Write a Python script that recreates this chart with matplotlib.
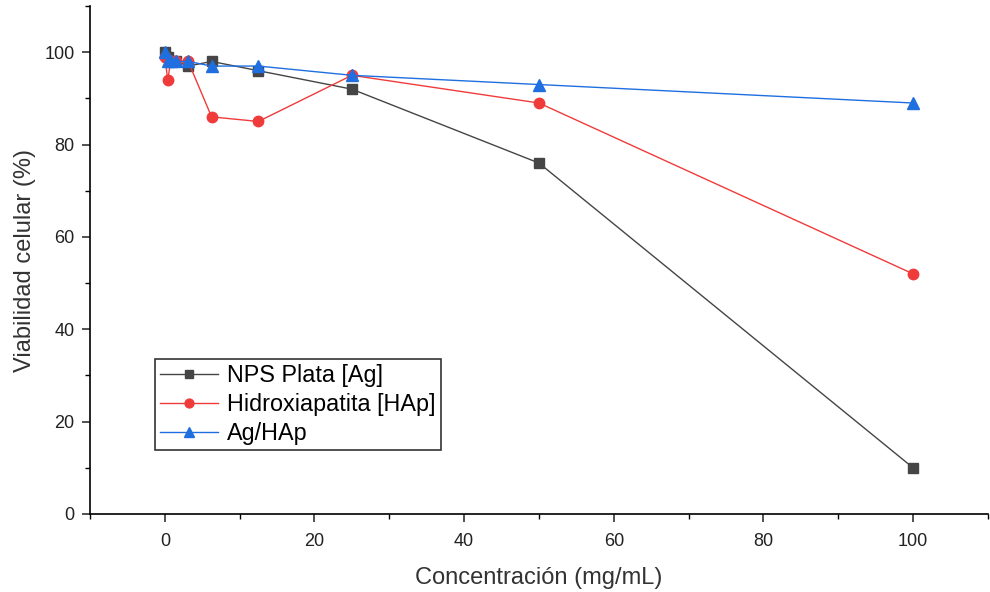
import matplotlib
matplotlib.use("Agg")
import matplotlib.pyplot as plt
from matplotlib.ticker import MultipleLocator

plt.rcParams['font.family'] = ['Liberation Sans', 'DejaVu Sans']

conc = [0, 0.39, 0.78, 1.56, 3.125, 6.25, 12.5, 25, 50, 100]
ag = [100, 99, 98, 98, 97, 98, 96, 92, 76, 10]
hap = [99, 94, 98, 98, 98, 86, 85, 95, 89, 52]
aghap = [100, 98, 98, 98, 98, 97, 97, 95, 93, 89]

fig = plt.figure(figsize=(9.9, 5.92), dpi=100)
ax = fig.add_axes([0.0909, 0.1318, 0.907, 0.858])

ax.plot(conc, ag, color='#454545', marker='s', markersize=7, lw=1.0, label='NPS Plata [Ag]')
ax.plot(conc, hap, color='#f03b3b', marker='o', markersize=7.5, lw=1.0, label='Hidroxiapatita [HAp]')
ax.plot(conc, aghap, color='#1f6fe0', marker='^', markersize=8, lw=1.0, label='Ag/HAp')

ax.set_xlim(-10, 110)
ax.set_ylim(0, 110)
ax.xaxis.set_major_locator(MultipleLocator(20))
ax.xaxis.set_minor_locator(MultipleLocator(10))
ax.yaxis.set_major_locator(MultipleLocator(20))
ax.yaxis.set_minor_locator(MultipleLocator(10))
for s in ['top', 'right']:
    ax.spines[s].set_visible(False)
for s in ['left', 'bottom']:
    ax.spines[s].set_linewidth(1.2)
ax.tick_params(which='major', direction='out', length=6, width=1.1, labelsize=13, colors='#222222')
ax.tick_params(axis='x', which='major', pad=8)
ax.tick_params(axis='y', which='major', pad=5)
ax.tick_params(which='minor', direction='out', length=3.5, width=1.0)

ax.set_xlabel('Concentración (mg/mL)', fontsize=17, color='#333333', labelpad=12)
ax.set_ylabel('Viabilidad celular (%)', fontsize=17, color='#333333', labelpad=6)

leg = ax.legend(loc='lower left', bbox_to_anchor=(0.072, 0.126), borderaxespad=0,
                fontsize=16.8, markerscale=0.85,
                frameon=True, fancybox=False, edgecolor='black', borderpad=0.22,
                labelspacing=0.25, handlelength=2.5, handletextpad=0.4)
leg.get_frame().set_linewidth(1.2)

fig.savefig('out.png', dpi=100)
